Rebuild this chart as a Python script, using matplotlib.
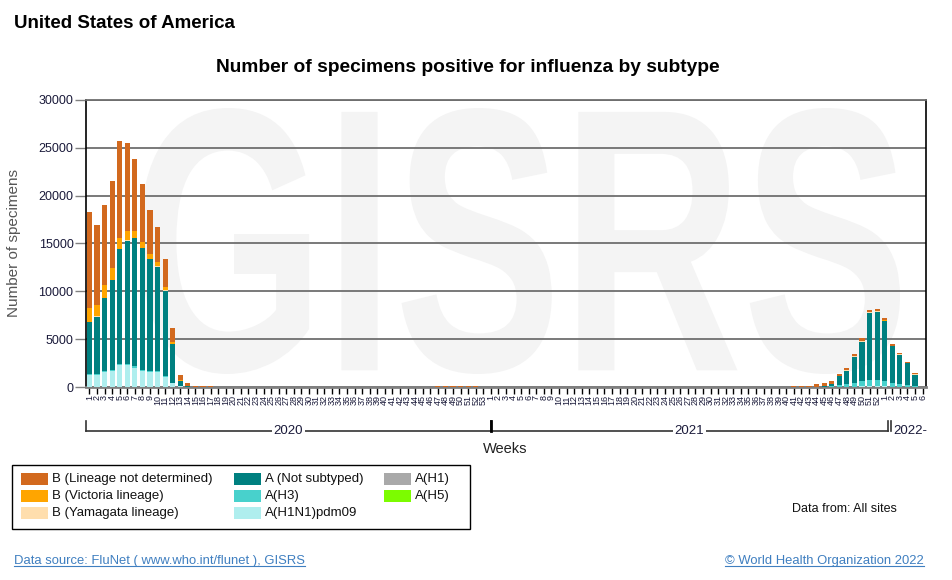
import numpy as np
import matplotlib
matplotlib.use("Agg")
import matplotlib.pyplot as plt
from matplotlib.patches import Rectangle, PathPatch
from matplotlib.textpath import TextPath
from matplotlib.font_manager import FontProperties
from matplotlib.transforms import Affine2D, blended_transform_factory

plt.rcParams['font.family'] = ['Liberation Sans', 'DejaVu Sans']

# week labels: 2020 w1-53, 2021 w1-52, 2022 w1-6 (w6 has no data yet)
weeks_2020 = list(range(1, 54))
weeks_2021 = list(range(1, 53))
weeks_2022 = list(range(1, 7))
week_labels = weeks_2020 + weeks_2021 + weeks_2022
years = ["2020", "2021", "2022-"]

# values per week (2020 w1 .. 2022 w5)
b_lineage_nd = [
    10040, 8360, 8360, 9160, 10110, 9230, 7530, 6050, 4600, 3720,
    2920, 1460, 560, 300, 130, 110, 50, 30, 20, 20,
    10, 10, 10, 10, 10, 10, 10, 10, 10, 10,
    10, 10, 10, 10, 10, 10, 10, 10, 10, 10,
    10, 10, 10, 20, 20, 50, 60, 70, 70, 60,
    70, 60, 50,
    50, 30, 20, 10, 10, 10, 10, 10, 10, 10,
    10, 10, 10, 10, 10, 10, 10, 10, 10, 10,
    10, 10, 10, 10, 10, 10, 10, 10, 10, 10,
    10, 10, 10, 10, 10, 10, 20, 20, 20, 40,
    80, 100, 110, 220, 300, 350, 200, 200, 230, 280,
    230, 230,
    210, 180, 180, 160, 130]
b_victoria = [
    1420, 1180, 1340, 1170, 1150, 980, 700, 580, 480, 420,
    330, 190, 50, 20, 0, 0, 0, 0, 0, 0,
    0, 0, 0, 0, 0, 0, 0, 0, 0, 0,
    0, 0, 0, 0, 0, 0, 0, 0, 0, 0,
    0, 0, 0, 0, 0, 0, 0, 0, 0, 0,
    0, 0, 0,
    0, 0, 0, 0, 0, 0, 0, 0, 0, 0,
    0, 0, 0, 0, 0, 0, 0, 0, 0, 0,
    0, 0, 0, 0, 0, 0, 0, 0, 0, 0,
    0, 0, 0, 0, 0, 0, 0, 0, 0, 0,
    0, 0, 0, 0, 0, 0, 20, 20, 20, 20,
    20, 20,
    20, 10, 10, 10, 10]
b_yamagata = [
    40, 40, 50, 50, 60, 60, 60, 50, 40, 40,
    30, 20, 10, 0, 0, 0, 0, 0, 0, 0,
    0, 0, 0, 0, 0, 0, 0, 0, 0, 0,
    0, 0, 0, 0, 0, 0, 0, 0, 0, 0,
    0, 0, 0, 0, 0, 0, 0, 0, 0, 0,
    0, 0, 0,
    0, 0, 0, 0, 0, 0, 0, 0, 0, 0,
    0, 0, 0, 0, 0, 0, 0, 0, 0, 0,
    0, 0, 0, 0, 0, 0, 0, 0, 0, 0,
    0, 0, 0, 0, 0, 0, 0, 0, 0, 0,
    0, 0, 0, 0, 0, 0, 0, 20, 30, 40,
    50, 50,
    40, 30, 30, 20, 20]
a_not_subtyped = [
    5440, 6000, 7550, 9380, 11940, 12810, 13380, 12690, 11660, 10860,
    8890, 4030, 560, 60, 20, 10, 10, 0, 0, 0,
    0, 0, 0, 0, 0, 0, 0, 0, 0, 0,
    0, 0, 0, 0, 0, 0, 0, 0, 0, 0,
    0, 0, 0, 0, 0, 0, 0, 0, 0, 0,
    0, 0, 0,
    0, 0, 0, 0, 0, 0, 0, 0, 0, 0,
    0, 0, 0, 0, 0, 0, 0, 0, 0, 0,
    0, 0, 0, 0, 0, 0, 0, 0, 0, 0,
    0, 0, 0, 0, 0, 0, 0, 0, 0, 0,
    0, 0, 0, 40, 60, 200, 900, 1430, 2770, 4110,
    6980, 7080,
    6240, 3830, 3030, 2240, 1200]
a_h3 = [
    100, 100, 120, 130, 150, 150, 140, 130, 120, 110,
    90, 40, 10, 0, 0, 0, 0, 0, 0, 0,
    0, 0, 0, 0, 0, 0, 0, 0, 0, 0,
    0, 0, 0, 0, 0, 0, 0, 0, 0, 0,
    0, 0, 0, 0, 0, 0, 0, 0, 0, 0,
    0, 0, 0,
    0, 0, 0, 0, 0, 0, 0, 0, 0, 0,
    0, 0, 0, 0, 0, 0, 0, 0, 0, 0,
    0, 0, 0, 0, 0, 0, 0, 0, 0, 0,
    0, 0, 0, 0, 0, 0, 0, 0, 0, 0,
    0, 0, 0, 10, 20, 60, 200, 250, 350, 580,
    700, 700,
    600, 400, 300, 200, 80]
a_h1n1pdm09 = [
    1250, 1250, 1600, 1670, 2300, 2300, 2020, 1670, 1600, 1600,
    1080, 390, 60, 10, 0, 0, 0, 0, 0, 0,
    0, 0, 0, 0, 0, 0, 0, 0, 0, 0,
    0, 0, 0, 0, 0, 0, 0, 0, 0, 0,
    0, 0, 0, 0, 0, 0, 0, 0, 0, 0,
    0, 0, 0,
    0, 0, 0, 0, 0, 0, 0, 0, 0, 0,
    0, 0, 0, 0, 0, 0, 0, 0, 0, 0,
    0, 0, 0, 0, 0, 0, 0, 0, 0, 0,
    0, 0, 0, 0, 0, 0, 0, 0, 0, 0,
    0, 0, 0, 0, 0, 20, 40, 30, 50, 60,
    70, 70,
    70, 40, 40, 20, 10]
a_h1 = [0] * len(a_h3)
a_h5 = [0] * len(a_h3)

# stacking order bottom -> top, with legend names
series = [
    ("A(H1N1)pdm09", a_h1n1pdm09, "#afeeee"),
    ("A(H3)", a_h3, "#48d1cc"),
    ("A(H1)", a_h1, "#a9a9a9"),
    ("A(H5)", a_h5, "#7cfc00"),
    ("A (Not subtyped)", a_not_subtyped, "#008080"),
    ("B (Yamagata lineage)", b_yamagata, "#ffdead"),
    ("B (Victoria lineage)", b_victoria, "#ffa500"),
    ("B (Lineage not determined)", b_lineage_nd, "#d2691e"),
]
legend_order = ["B (Lineage not determined)", "B (Victoria lineage)", "B (Yamagata lineage)",
                "A (Not subtyped)", "A(H3)", "A(H1N1)pdm09", "A(H1)", "A(H5)"]

W, H = 952, 580
fig = plt.figure(figsize=(W / 100, H / 100), dpi=100)

def fx(px):
    return px / W

def fy(py):
    return 1 - py / H

ax = fig.add_axes([fx(86), fy(387), fx(926) - fx(86), fy(100) - fy(387)])

xs = np.arange(len(b_lineage_nd))
bottom = np.zeros(len(xs))
for name, vals, col in series:
    vals = np.array(vals, dtype=float)
    ax.bar(xs, vals, 0.68, bottom=bottom, color=col, linewidth=0, zorder=3)
    bottom += vals

ax.set_xlim(-0.45, len(week_labels) - 0.55)
ax.set_ylim(0, 30000)
ax.set_yticks(np.arange(0, 30001, 5000))
ax.set_xticks(np.arange(len(week_labels)))
ax.set_xticklabels([str(w) for w in week_labels], rotation=90, fontsize=6.5, color="#1a1a3a")
ax.tick_params(axis="x", length=5, width=1, color="black", pad=1)
ax.tick_params(axis="y", length=8, width=1, color="#808080", labelsize=9,
               labelcolor="#1a1a3a", pad=1)
ax.yaxis.grid(True, color="#6e6e6e", lw=1.3, zorder=1)
ax.set_axisbelow(True)
ax.spines["left"].set_color("black")
ax.spines["left"].set_linewidth(1.2)
ax.spines["right"].set_color("black")
ax.spines["right"].set_linewidth(1.2)
ax.spines["top"].set_color("#6e6e6e")
ax.spines["top"].set_linewidth(1.3)
ax.spines["bottom"].set_color("#808080")
ax.spines["bottom"].set_linewidth(2)

# GISRS watermark, stretched to fill the plot area
tp = TextPath((0, 0), "GISRS", size=1, prop=FontProperties(family="Liberation Sans", weight="bold"))
ext = tp.get_extents()
x0, x1 = (140 - 86) / 840, (900 - 86) / 840
y0, y1 = (387 - 374) / 287, (387 - 108) / 287
tr = Affine2D().translate(-ext.x0, -ext.y0).scale((x1 - x0) / ext.width, (y1 - y0) / ext.height) \
    .translate(x0, y0) + ax.transAxes
ax.add_patch(PathPatch(tp, transform=tr, facecolor="#f4f4f4", edgecolor="none", zorder=0.5))

# year bracket under the week labels
trans = blended_transform_factory(ax.transData, fig.transFigure)
left = ax.get_xlim()[0]
sep_2021 = 53
sep_2022 = 105.4
line_kw = dict(transform=trans, clip_on=False, color="#333333", lw=1.2)
ax.plot([left, sep_2022], [fy(431), fy(431)], **line_kw)
for xv in [left, sep_2021, sep_2022, sep_2022 + 0.4]:
    ax.plot([xv, xv], [fy(421), fy(431)], **line_kw)
ax.plot([sep_2021, sep_2021], [fy(421), fy(431)], transform=trans, clip_on=False, color="black", lw=2)
txt_kw = dict(transform=trans, fontsize=9.5, color="#1a1a3a", va="center",
              bbox=dict(facecolor="white", edgecolor="none", pad=1))
ax.text((left + sep_2021) / 2, fy(431), years[0], ha="center", **txt_kw)
ax.text((sep_2021 + sep_2022) / 2, fy(431), years[1], ha="center", **txt_kw)
ax.text(sep_2022 + 0.7, fy(431), years[2], ha="left", **txt_kw)

fig.text(fx(505), fy(449), "Weeks", ha="center", va="center", fontsize=10.5, color="#222222")
fig.text(fx(14), fy(243), "Number of specimens", rotation=90, ha="center", va="center",
         fontsize=11, color="#555555")

fig.text(fx(14), fy(24), "United States of America", fontsize=13.5, weight="bold", va="center")
fig.text(fx(468), fy(68), "Number of specimens positive for influenza by subtype",
         fontsize=13.8, weight="bold", ha="center", va="center")

# legend box
fig.patches.append(Rectangle((fx(12), fy(529)), fx(470) - fx(12), fy(465) - fy(529),
                             transform=fig.transFigure, facecolor="none", edgecolor="black", lw=1))
colors = {name: col for name, vals, col in series}
col_x = [21, 234, 384]
row_y = [479, 496, 513]
for i, name in enumerate(legend_order):
    cx = col_x[i // 3]
    ry = row_y[i % 3]
    fig.patches.append(Rectangle((fx(cx), fy(ry + 6)), fx(27), fy(0) - fy(12),
                                 transform=fig.transFigure, facecolor=colors[name], edgecolor="none"))
    fig.text(fx(cx + 31), fy(ry), name, fontsize=9.5, va="center", color="#111111")

fig.text(fx(792), fy(509), "Data from: All sites", fontsize=9, va="center", color="#111111")

link = "#3f7fc0"
t1 = fig.text(fx(14), fy(561), "Data source: FluNet ( www.who.int/flunet ), GISRS",
              fontsize=9.4, va="center", color=link)
t2 = fig.text(fx(924), fy(561), "\u00a9 World Health Organization 2022",
              fontsize=9.4, va="center", ha="right", color=link)
fig.canvas.draw()
inv = fig.transFigure.inverted()
for t in [t1, t2]:
    bb = t.get_window_extent()
    (ax0, ay0), (ax1, _) = inv.transform([(bb.x0, bb.y0 + 1), (bb.x1, bb.y0 + 1)])
    fig.add_artist(plt.Line2D([ax0, ax1], [ay0, ay0], transform=fig.transFigure, color=link, lw=0.8))

fig.savefig("out.png", dpi=100)
